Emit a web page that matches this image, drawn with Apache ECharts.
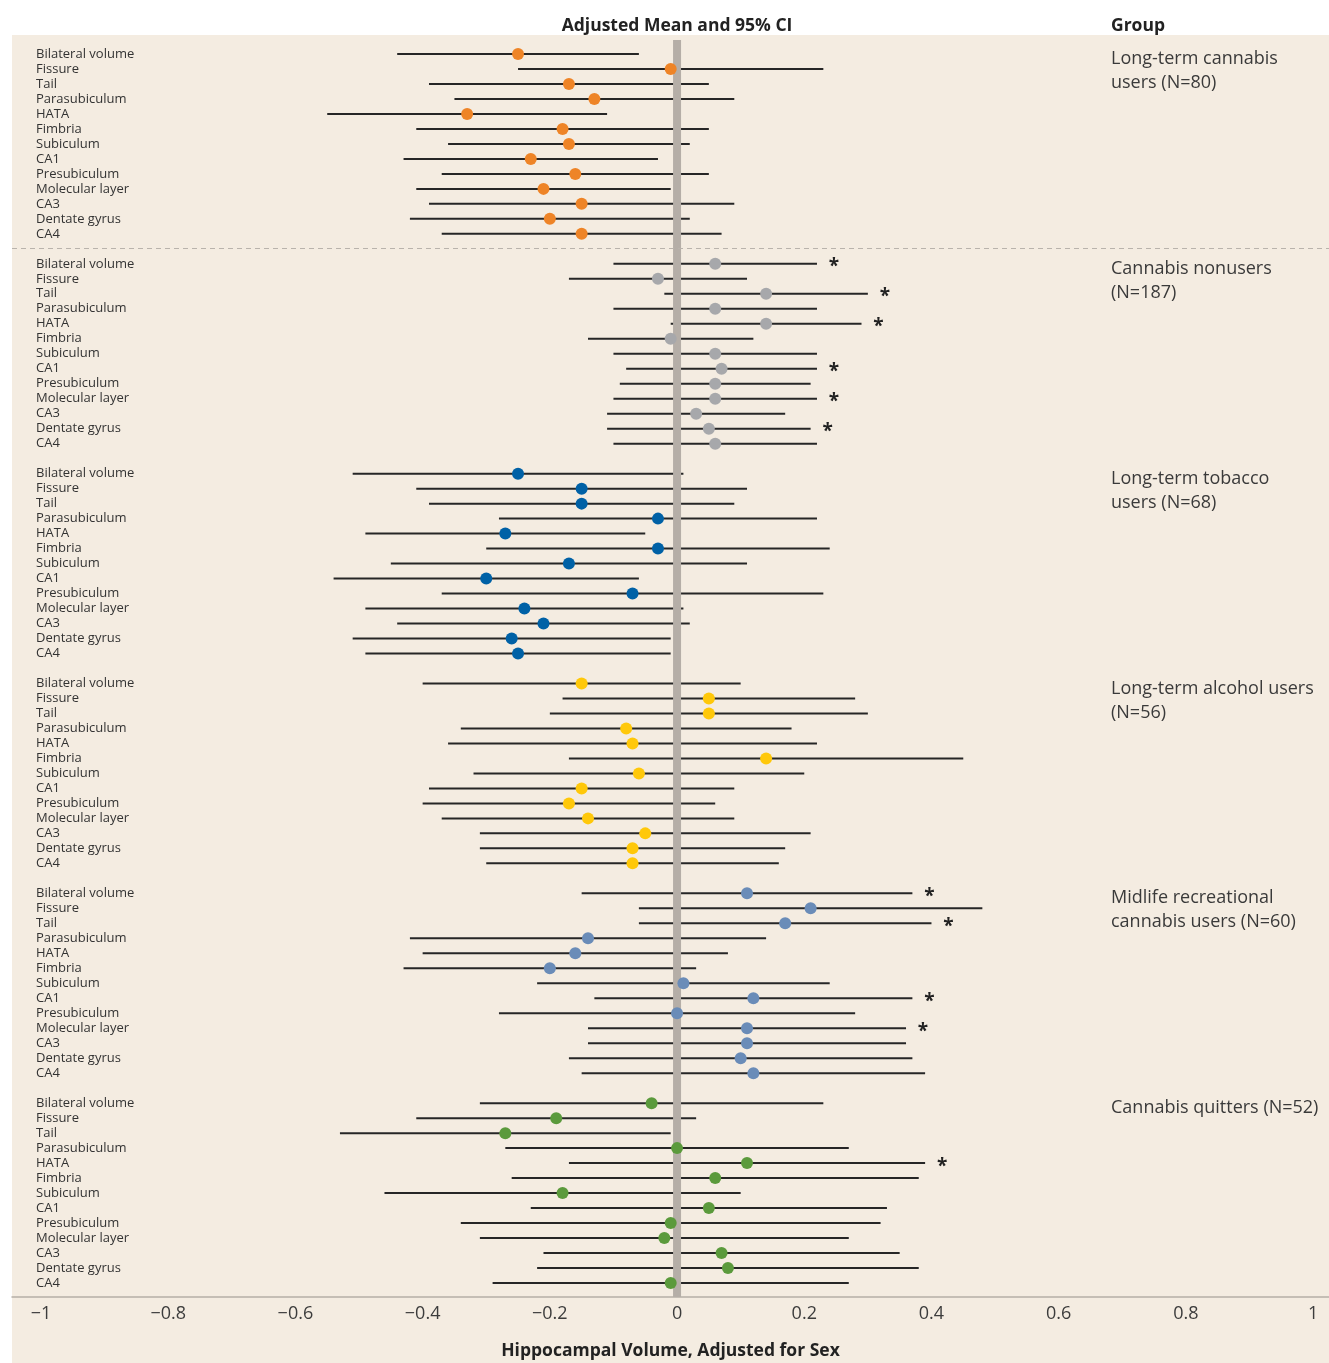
<!DOCTYPE html>
<html><head><meta charset="utf-8">
<script src="https://cdn.jsdelivr.net/npm/echarts@6/dist/echarts.min.js"></script>
<style>html,body{margin:0;padding:0;background:#fff}#c{width:1329px;height:1363px}</style>
</head><body><div id="c"></div>
<script>
const regions = ['Bilateral volume','Fissure','Tail','Parasubiculum','HATA','Fimbria','Subiculum','CA1','Presubiculum','Molecular layer','CA3','Dentate gyrus','CA4'];
const groupNames = ['Long-term cannabis\nusers (N=80)','Cannabis nonusers\n(N=187)','Long-term tobacco\nusers (N=68)','Long-term alcohol users\n(N=56)','Midlife recreational\ncannabis users (N=60)','Cannabis quitters (N=52)'];
const groupColors = ['#EE8427','#A7A8AB','#0061A6','#FFC80A','#6A8CB8','#5B9A3C'];
const xTicks = [-1,-0.8,-0.6,-0.4,-0.2,0,0.2,0.4,0.6,0.8,1];

const cannabisMean  = [-0.25,-0.01,-0.17,-0.13,-0.33,-0.18,-0.17,-0.23,-0.16,-0.21,-0.15,-0.20,-0.15];
const cannabisLower = [-0.44,-0.25,-0.39,-0.35,-0.55,-0.41,-0.36,-0.43,-0.37,-0.41,-0.39,-0.42,-0.37];
const cannabisUpper = [-0.06,0.23,0.05,0.09,-0.11,0.05,0.02,-0.03,0.05,-0.01,0.09,0.02,0.07];
const cannabisSig   = [0,0,0,0,0,0,0,0,0,0,0,0,0];

const nonusersMean  = [0.06,-0.03,0.14,0.06,0.14,-0.01,0.06,0.07,0.06,0.06,0.03,0.05,0.06];
const nonusersLower = [-0.10,-0.17,-0.02,-0.10,-0.01,-0.14,-0.10,-0.08,-0.09,-0.10,-0.11,-0.11,-0.10];
const nonusersUpper = [0.22,0.11,0.30,0.22,0.29,0.12,0.22,0.22,0.21,0.22,0.17,0.21,0.22];
const nonusersSig   = [1,0,1,0,1,0,0,1,0,1,0,1,0];

const tobaccoMean  = [-0.25,-0.15,-0.15,-0.03,-0.27,-0.03,-0.17,-0.30,-0.07,-0.24,-0.21,-0.26,-0.25];
const tobaccoLower = [-0.51,-0.41,-0.39,-0.28,-0.49,-0.30,-0.45,-0.54,-0.37,-0.49,-0.44,-0.51,-0.49];
const tobaccoUpper = [0.01,0.11,0.09,0.22,-0.05,0.24,0.11,-0.06,0.23,0.01,0.02,-0.01,-0.01];
const tobaccoSig   = [0,0,0,0,0,0,0,0,0,0,0,0,0];

const alcoholMean  = [-0.15,0.05,0.05,-0.08,-0.07,0.14,-0.06,-0.15,-0.17,-0.14,-0.05,-0.07,-0.07];
const alcoholLower = [-0.40,-0.18,-0.20,-0.34,-0.36,-0.17,-0.32,-0.39,-0.40,-0.37,-0.31,-0.31,-0.30];
const alcoholUpper = [0.10,0.28,0.30,0.18,0.22,0.45,0.20,0.09,0.06,0.09,0.21,0.17,0.16];
const alcoholSig   = [0,0,0,0,0,0,0,0,0,0,0,0,0];

const midlifeMean  = [0.11,0.21,0.17,-0.14,-0.16,-0.20,0.01,0.12,0.00,0.11,0.11,0.10,0.12];
const midlifeLower = [-0.15,-0.06,-0.06,-0.42,-0.40,-0.43,-0.22,-0.13,-0.28,-0.14,-0.14,-0.17,-0.15];
const midlifeUpper = [0.37,0.48,0.40,0.14,0.08,0.03,0.24,0.37,0.28,0.36,0.36,0.37,0.39];
const midlifeSig   = [1,0,1,0,0,0,0,1,0,1,0,0,0];

const quittersMean  = [-0.04,-0.19,-0.27,0.00,0.11,0.06,-0.18,0.05,-0.01,-0.02,0.07,0.08,-0.01];
const quittersLower = [-0.31,-0.41,-0.53,-0.27,-0.17,-0.26,-0.46,-0.23,-0.34,-0.31,-0.21,-0.22,-0.29];
const quittersUpper = [0.23,0.03,-0.01,0.27,0.39,0.38,0.10,0.33,0.32,0.27,0.35,0.38,0.27];
const quittersSig   = [0,0,0,0,1,0,0,0,0,0,0,0,0];

const groupData = [
  [cannabisMean, cannabisLower, cannabisUpper, cannabisSig],
  [nonusersMean, nonusersLower, nonusersUpper, nonusersSig],
  [tobaccoMean, tobaccoLower, tobaccoUpper, tobaccoSig],
  [alcoholMean, alcoholLower, alcoholUpper, alcoholSig],
  [midlifeMean, midlifeLower, midlifeUpper, midlifeSig],
  [quittersMean, quittersLower, quittersUpper, quittersSig]
];
const SLOTS = 14; // 13 rows + 1 gap row per group

const rowPositions = [];
const ciData = [];
groupData.forEach((g, gi) => {
  regions.forEach((r, ri) => {
    const k = gi * SLOTS + ri;
    rowPositions.push(k);
    ciData.push([g[1][ri], g[2][ri], k, g[3][ri]]);
  });
});

const chart = echarts.init(document.getElementById('c'), null, {renderer: 'canvas'});
const FONT = '"Open Sans", "Noto Sans", sans-serif';

const series = [];
series.push({
  type: 'custom', name: 'ci', z: 2, silent: true,
  encode: {x: [0, 1], y: 2},
  data: ciData,
  renderItem: (params, api) => {
    const k = api.value(2);
    const a = api.coord([api.value(0), k]);
    const b = api.coord([api.value(1), k]);
    const children = [{type: 'line', shape: {x1: a[0], y1: a[1], x2: b[0], y2: b[1]}, style: {stroke: '#262626', lineWidth: 2}}];
    if (api.value(3)) {
      children.push({type: 'text', x: b[0] + 17, y: b[1] + 3, style: {text: '*', font: 'bold 19px ' + FONT, fill: '#222', align: 'center', verticalAlign: 'middle'}});
    }
    return {type: 'group', children};
  },
  markLine: {
    silent: true, symbol: 'none', label: {show: false},
    lineStyle: {color: '#b9b3ac', type: [5, 4], width: 1},
    data: [{yAxis: SLOTS - 1.07}]
  }
});
series.push({
  type: 'custom', name: 'zero', z: 3, silent: true,
  data: [[0]],
  encode: {x: 0},
  renderItem: (params, api) => {
    const p = api.coord([0, 0]);
    const cs = params.coordSys;
    return {type: 'rect', shape: {x: p[0] - 4, y: cs.y, width: 8, height: cs.height}, style: {fill: '#b5aea7'}};
  }
});
groupData.forEach((g, gi) => {
  series.push({
    type: 'scatter', name: 'g' + gi, z: 4, silent: true,
    symbol: 'circle', symbolSize: 12,
    itemStyle: {color: groupColors[gi], opacity: 1},
    data: g[0].map((m, ri) => [m, gi * SLOTS + ri])
  });
});
series.push({
  type: 'custom', name: 'groupLabels', z: 5, silent: true,
  data: groupNames.map((n, gi) => [0, gi * SLOTS]),
  encode: {x: 0, y: 1},
  renderItem: (params, api) => {
    const p = api.coord([0, api.value(1)]);
    return {type: 'text', x: 1111, y: p[1] - 7, style: {text: groupNames[params.dataIndex], font: '18px ' + FONT, fill: '#3a3a3a', lineHeight: 24, verticalAlign: 'top', align: 'left'}};
  }
});

chart.setOption({
  backgroundColor: '#F4ECE1',
  animation: false,
  grid: {left: 12, right: 0, top: 40, bottom: 66, containLabel: false, outerBoundsMode: 'none'},
  xAxis: {
    type: 'value', min: -1.0456, max: 1.025,
    axisLine: {show: true, onZero: false, lineStyle: {color: '#b5aea7', width: 1.5}},
    axisTick: {show: false},
    splitLine: {show: false},
    axisLabel: {customValues: xTicks, margin: 8, color: '#3c3c3c', fontSize: 18, fontFamily: FONT,
      formatter: v => String(Math.round(v * 10) / 10).replace('-', '\u2212')},
    name: 'Hippocampal Volume, Adjusted for Sex', nameLocation: 'middle', nameGap: 45,
    nameTextStyle: {fontWeight: 'bold', fontSize: 17.5, color: '#222', fontFamily: FONT}
  },
  yAxis: {
    type: 'value', inverse: true, min: -0.933, max: 82.933,
    axisLine: {show: false, onZero: false}, axisTick: {show: false}, splitLine: {show: false},
    axisLabel: {customValues: rowPositions, inside: true, margin: 24, align: 'left',
      color: '#333', fontSize: 13, fontFamily: FONT,
      formatter: v => regions[Math.round(v) % SLOTS] || ''}
  },
  graphic: [
    {type: 'rect', left: 0, top: 0, shape: {width: 1329, height: 35}, style: {fill: '#ffffff'}, silent: true},
    {type: 'rect', left: 0, top: 0, shape: {width: 12, height: 1363}, style: {fill: '#ffffff'}, silent: true},
    {type: 'text', x: 677, y: 26, style: {text: 'Adjusted Mean and 95% CI', font: 'bold 17.5px ' + FONT, fill: '#222', align: 'center', verticalAlign: 'middle'}},
    {type: 'text', x: 1111, y: 26, style: {text: 'Group', font: 'bold 17.5px ' + FONT, fill: '#222', align: 'left', verticalAlign: 'middle'}}
  ],
  series
});
</script></body></html>
